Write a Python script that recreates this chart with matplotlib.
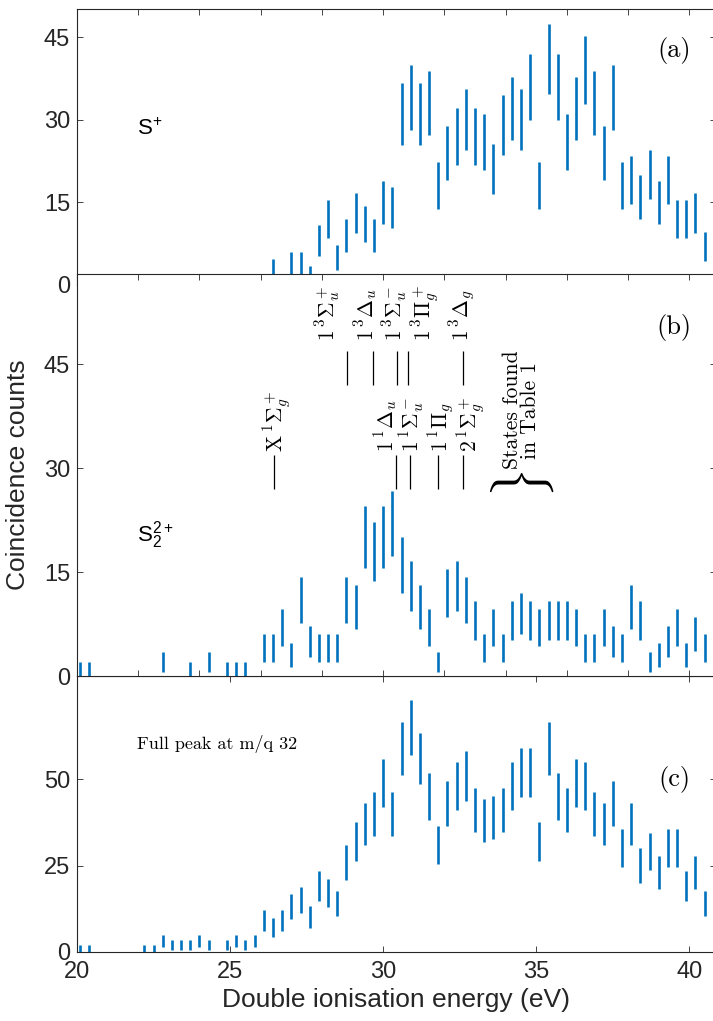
import numpy as np
import matplotlib
matplotlib.use("Agg")
import matplotlib.pyplot as plt

plt.rcParams['font.family'] = ['Liberation Sans', 'DejaVu Sans']

# bin centres (eV), 0.3 eV bins
energy = np.linspace(20.1, 40.5, 69)

# coincidence counts per bin
counts_s = [0]*21 + [3, 0, 4, 4, 2, 8, 12, 5, 9, 13, 11, 9, 15, 14, 31, 34, 31, 33,
                     18, 24, 27, 30, 27, 26, 21, 29, 32, 30, 36, 18, 41, 36, 26, 32,
                     39, 33, 24, 34, 18, 19, 16, 20, 15, 19, 12, 12, 13, 7]
counts_s2 = [1, 1, 0, 0, 0, 0, 0, 0, 0, 2, 0, 0, 1, 0, 2, 0, 1, 1, 1, 0, 4, 4, 7, 3,
             11, 5, 4, 4, 4, 11, 10, 20, 18, 20, 22, 16, 13, 10, 7, 2, 12, 13, 11,
             8, 4, 7, 4, 8, 9, 8, 7, 8, 8, 8, 7, 4, 4, 7, 5, 4, 10, 8, 2, 3, 5, 7,
             3, 6, 4]
counts_full = [1, 1, 0, 0, 0, 0, 0, 1, 1, 3, 2, 2, 2, 3, 2, 0, 2, 3, 2, 3, 9, 7, 9,
               13, 15, 10, 19, 17, 14, 26, 32, 37, 40, 49, 40, 59, 65, 56, 45, 31,
               43, 48, 51, 41, 38, 39, 41, 48, 52, 52, 32, 59, 45, 41, 49, 48, 40,
               37, 43, 30, 37, 25, 29, 23, 30, 30, 19, 23, 14]

# electronic states of S2 2+ (label, energy in eV, label centre in eV)
states_top = [r'$1\,{}^3\Sigma_u^+$', r'$1\,{}^3\Delta_u$', r'$1\,{}^3\Sigma_u^-$',
              r'$1\,{}^3\Pi_g^+$', r'$1\,{}^3\Delta_g$']
energy_top = [28.81, 29.68, 30.44, 30.82, 32.62]
label_top = [28.2, 29.44, 30.39, 31.4, 32.6]
states_bot = [r'$\mathrm{X}\,{}^1\Sigma_g^+$', r'$1\,{}^1\Delta_u$', r'$1\,{}^1\Sigma_u^-$',
              r'$1\,{}^1\Pi_g$', r'$2\,{}^1\Sigma_g^+$']
energy_bot = [26.43, 30.42, 30.88, 31.8, 32.62]
label_bot = [26.55, 30.1, 30.96, 31.9, 32.9]

blue = '#0072BD'
dark = '#262626'

fig = plt.figure(figsize=(7.13, 10.21), dpi=100)
left, width = 0.108, 0.8962
ax_a = fig.add_axes([left, 0.7211, width, 0.2696])
ax_c = fig.add_axes([left, 0.0679, width, 0.2700])
ax_b = fig.add_axes([left, 0.3379, width, 0.3937])  # drawn on top of (a)
ax_b.set_facecolor('white')

def style(ax, ylim, yticks, xticks, labels):
    ax.set_xlim(20, 40.87)
    ax.set_ylim(*ylim)
    ax.set_yticks(yticks)
    ax.set_xticks(xticks)
    if not labels:
        ax.set_xticklabels([])
    ax.tick_params(direction='in', length=4.5, width=0.6, top=True, right=True,
                   labelsize=17, colors=dark, pad=5)
    for s in ax.spines.values():
        s.set_color(dark)
        s.set_linewidth(0.8)

for ax, c in [(ax_a, counts_s), (ax_b, counts_s2), (ax_c, counts_full)]:
    c = np.array(c, dtype=float)
    ax.errorbar(energy, c, yerr=np.sqrt(c), fmt='none', ecolor=blue,
                elinewidth=1.9, capsize=0)

style(ax_a, (0, 50), [0, 15, 30, 45], np.arange(20, 41, 2), False)
style(ax_b, (0, 58), [0, 15, 30, 45], np.arange(20, 41, 2), False)
style(ax_c, (0, 80), [0, 25, 50], np.arange(20, 41, 5), True)
ax_c.tick_params(axis='x', pad=7)

ax_b.set_ylabel('Coincidence counts', fontsize=19, color=dark, labelpad=10)
ax_c.set_xlabel('Double ionisation energy (eV)', fontsize=19, color=dark, labelpad=3)

ax_a.text(21.96, 28.3, r'$\mathregular{S^{+}}$', fontsize=16, va='center')
ax_b.text(21.96, 20.3, r'$\mathregular{S_2^{2+}}$', fontsize=16, va='center')
ax_c.text(21.96, 60.4, 'Full peak at m/q 32', fontfamily='cmr10', fontsize=13,
          va='center')

for ax, lab, y in [(ax_a, '(a)', 42.5), (ax_b, '(b)', 50.3), (ax_c, '(c)', 49.9)]:
    ax.text(39.5, y, lab, fontfamily='cmr10', fontsize=19, ha='center', va='center')

# state markers
ax_b.vlines(energy_top, 42.0, 46.9, color='k', lw=0.9)
ax_b.vlines(energy_bot, 27.0, 31.9, color='k', lw=0.9)
for s, xl in zip(states_top, label_top):
    ax_b.text(xl, 48.3, s, rotation=90, ha='center', va='bottom', fontsize=15.5,
              math_fontfamily='cm')
for s, xl in zip(states_bot, label_bot):
    ax_b.text(xl, 32.3, s, rotation=90, ha='center', va='bottom', fontsize=15.5,
              math_fontfamily='cm')

ax_b.text(34.5, 29.8, 'States found\nin Table 1', rotation=90, ha='center',
          va='bottom', fontfamily='cmr10', fontsize=15.5, multialignment='center',
          linespacing=0.9)
ax_b.text(34.57, 27.6, r'$\}$', rotation=90, ha='center', va='center', fontsize=38,
          math_fontfamily='cm')

fig.savefig('out.png', dpi=100)
